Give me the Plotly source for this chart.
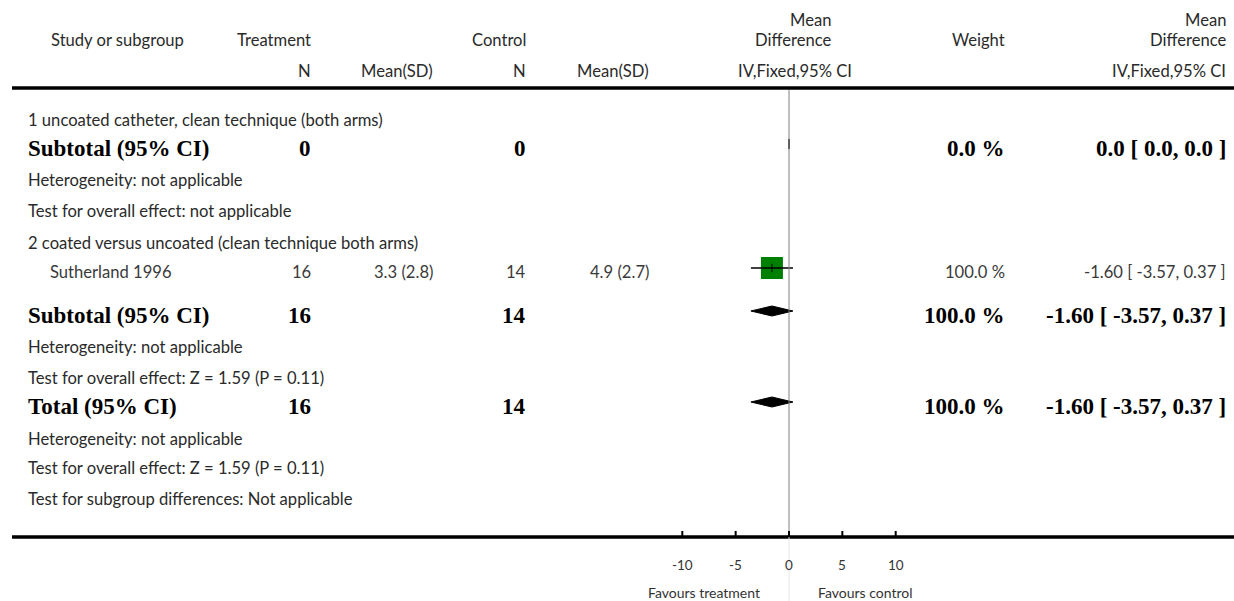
import plotly.graph_objects as go

# ---------------- data ----------------
study_names = ["Sutherland 1996"]
trt_n = [16]
trt_mean = [3.3]
trt_sd = [2.8]
ctl_n = [14]
ctl_mean = [4.9]
ctl_sd = [2.7]
study_md = [-1.60]
study_lo = [-3.57]
study_hi = [0.37]
study_weight = [100.0]

# summary rows: subtotal 1, subtotal 2, total
sum_labels = ["Subtotal (95% CI)", "Subtotal (95% CI)", "Total (95% CI)"]
sum_trt_n = [0, 16, 16]
sum_ctl_n = [0, 14, 14]
sum_weight = [0.0, 100.0, 100.0]
sum_md = [0.0, -1.60, -1.60]
sum_lo = [0.0, -3.57, -3.57]
sum_hi = [0.0, 0.37, 0.37]

tick_vals = [-10, -5, 0, 5, 10]
tick_text = ["-10", "-5", "0", "5", "10"]

# ---------------- layout constants ----------------
W, H = 1234, 601
ZERO_PX = 789.0
PX_PER_UNIT = 10.67
X_RANGE = [-ZERO_PX / PX_PER_UNIT, (W - ZERO_PX) / PX_PER_UNIT]

REG = "Lato"
BOLD = "Liberation Serif"
REG_SIZE = 16.6
BOLD_SIZE = 23
TXT = "#2a2a2a"

# row vertical positions (pixels from top)
Y_HDR1, Y_HDR2, Y_HDR3 = 20, 40, 71
Y_G1 = 120
Y_SUB1 = 148
Y_HET1, Y_TEST1 = 180, 211
Y_G2 = 243
Y_STUDY = 272
Y_SUB2 = 315
Y_HET2, Y_TEST2 = 347, 378
Y_TOT = 406
Y_HET3, Y_TEST3 = 439, 468
Y_SUBDIFF = 499
Y_TOPLINE, Y_AXIS = 88, 537
MARK_OFF = -4  # marks sit slightly above text centre

def px(x):
    return x / W

annotations = []

def txt(x, y, s, anchor="left", bold=False, size=None, color=TXT):
    annotations.append(dict(
        x=px(x), y=y, xref="paper", yref="y", text=s, showarrow=False,
        xanchor=anchor, yanchor="middle",
        font=dict(family=BOLD if bold else REG,
                  size=size or (BOLD_SIZE if bold else REG_SIZE),
                  color="#000000" if bold else color,
                  weight="bold" if bold else "normal"),
    ))

# headers
txt(49, Y_HDR2, "Study or subgroup")
txt(313, Y_HDR2, "Treatment", "right")
txt(528, Y_HDR2, "Control", "right")
txt(833, Y_HDR1, "Mean", "right")
txt(833, Y_HDR2, "Difference", "right")
txt(1007, Y_HDR2, "Weight", "right")
txt(1228, Y_HDR1, "Mean", "right")
txt(1228, Y_HDR2, "Difference", "right")
txt(313, Y_HDR3, "N", "right")
txt(435, Y_HDR3, "Mean(SD)", "right")
txt(528, Y_HDR3, "N", "right")
txt(651, Y_HDR3, "Mean(SD)", "right")
txt(795, Y_HDR3, "IV,Fixed,95% CI", "center")
txt(1228, Y_HDR3, "IV,Fixed,95% CI", "right")

# group/footnote lines
txt(26, Y_G1, "1 uncoated catheter, clean technique (both arms)")
txt(26, Y_HET1, "Heterogeneity: not applicable")
txt(26, Y_TEST1, "Test for overall effect: not applicable")
txt(26, Y_G2, "2 coated versus uncoated (clean technique both arms)")
txt(26, Y_HET2, "Heterogeneity: not applicable")
txt(26, Y_TEST2, "Test for overall effect: Z = 1.59 (P = 0.11)")
txt(26, Y_HET3, "Heterogeneity: not applicable")
txt(26, Y_TEST3, "Test for overall effect: Z = 1.59 (P = 0.11)")
txt(26, Y_SUBDIFF, "Test for subgroup differences: Not applicable")

# study rows
STUDY_COL = "#3a3a3a"
study_rows = [Y_STUDY]
for i, yy in enumerate(study_rows):
    txt(48, yy, study_names[i], color=STUDY_COL)
    txt(313, yy, str(trt_n[i]), "right", color=STUDY_COL)
    txt(435, yy, f"{trt_mean[i]:.1f} ({trt_sd[i]:.1f})", "right", color=STUDY_COL)
    txt(528, yy, str(ctl_n[i]), "right", color=STUDY_COL)
    txt(651, yy, f"{ctl_mean[i]:.1f} ({ctl_sd[i]:.1f})", "right", color=STUDY_COL)
    txt(1007, yy, f"{study_weight[i]:.1f} %", "right", color=STUDY_COL)
    txt(1228, yy, f"{study_md[i]:.2f} [ {study_lo[i]:.2f}, {study_hi[i]:.2f} ]", "right", color=STUDY_COL)

# summary rows
sum_rows = [Y_SUB1, Y_SUB2, Y_TOT]
for i, yy in enumerate(sum_rows):
    txt(26, yy, sum_labels[i], bold=True)
    txt(313, yy, str(sum_trt_n[i]), "right", bold=True)
    txt(528, yy, str(sum_ctl_n[i]), "right", bold=True)
    txt(1007, yy, f"{sum_weight[i]:.1f} %", "right", bold=True)
    if sum_trt_n[i] == 0:
        s = f"{sum_md[i]:.1f} [ {sum_lo[i]:.1f}, {sum_hi[i]:.1f} ]"
    else:
        s = f"{sum_md[i]:.2f} [ {sum_lo[i]:.2f}, {sum_hi[i]:.2f} ]"
    txt(1228, yy, s, "right", bold=True)

# axis tick labels + favours labels (data x)
for v, t in zip(tick_vals, tick_text):
    annotations.append(dict(x=v, y=565, xref="x", yref="y", text=t, showarrow=False,
                            xanchor="center", yanchor="middle",
                            font=dict(family=REG, size=13.5, color="#333333")))
annotations.append(dict(x=-2.5, y=592, xref="x", yref="y", text="Favours treatment",
                        showarrow=False, xanchor="right", yanchor="middle",
                        font=dict(family=REG, size=14, color="#333333")))
annotations.append(dict(x=2.5, y=592, xref="x", yref="y", text="Favours control",
                        showarrow=False, xanchor="left", yanchor="middle",
                        font=dict(family=REG, size=14, color="#333333")))

fig = go.Figure()

# diamonds for summaries
DH = 5
for i, yy in enumerate(sum_rows):
    yc = yy + MARK_OFF
    fig.add_trace(go.Scatter(
        x=[sum_lo[i], sum_md[i], sum_hi[i], sum_md[i], sum_lo[i]],
        y=[yc, yc - DH, yc, yc + DH, yc],
        mode="lines", fill="toself", fillcolor="black",
        line=dict(color="black", width=1), hoverinfo="skip", showlegend=False))

# study squares and CIs
for i, yy in enumerate(study_rows):
    yc = yy + MARK_OFF
    fig.add_trace(go.Scatter(
        x=[study_md[i]], y=[yc], mode="markers",
        marker=dict(symbol="square", size=22 * (study_weight[i] / 100) ** 0.5,
                    color="#008000", line=dict(width=0)),
        hoverinfo="skip", showlegend=False))
    fig.add_trace(go.Scatter(
        x=[study_lo[i], study_hi[i]], y=[yc, yc], mode="lines",
        line=dict(color="black", width=1.3), hoverinfo="skip", showlegend=False))
    fig.add_trace(go.Scatter(
        x=[study_md[i]], y=[yc], mode="markers",
        marker=dict(symbol="line-ns", size=6, line=dict(color="black", width=1)),
        hoverinfo="skip", showlegend=False))

shapes = [
    # header rule and axis rule
    dict(type="line", xref="paper", yref="y", x0=px(12), x1=1, y0=Y_TOPLINE, y1=Y_TOPLINE,
         line=dict(color="black", width=3.5)),
    dict(type="line", xref="paper", yref="y", x0=px(12), x1=1, y0=Y_AXIS, y1=Y_AXIS,
         line=dict(color="black", width=3.5)),
    # line of no effect
    dict(type="line", xref="x", yref="y", x0=0, x1=0, y0=Y_TOPLINE + 2, y1=Y_AXIS,
         line=dict(color="#808080", width=1)),
    dict(type="line", xref="x", yref="y", x0=0, x1=0, y0=Y_AXIS, y1=H,
         line=dict(color="#e6e6e6", width=1)),
]
for v in tick_vals:
    shapes.append(dict(type="line", xref="x", yref="y", x0=v, x1=v, y0=Y_AXIS - 6, y1=Y_AXIS,
                       line=dict(color="black", width=2)))

fig.update_layout(
    width=W, height=H, margin=dict(l=0, r=0, t=0, b=0),
    paper_bgcolor="white", plot_bgcolor="white",
    xaxis=dict(range=X_RANGE, visible=False, fixedrange=True),
    yaxis=dict(range=[H, 0], visible=False, fixedrange=True),
    annotations=annotations, shapes=shapes, showlegend=False,
)

fig.write_html("out.html")
